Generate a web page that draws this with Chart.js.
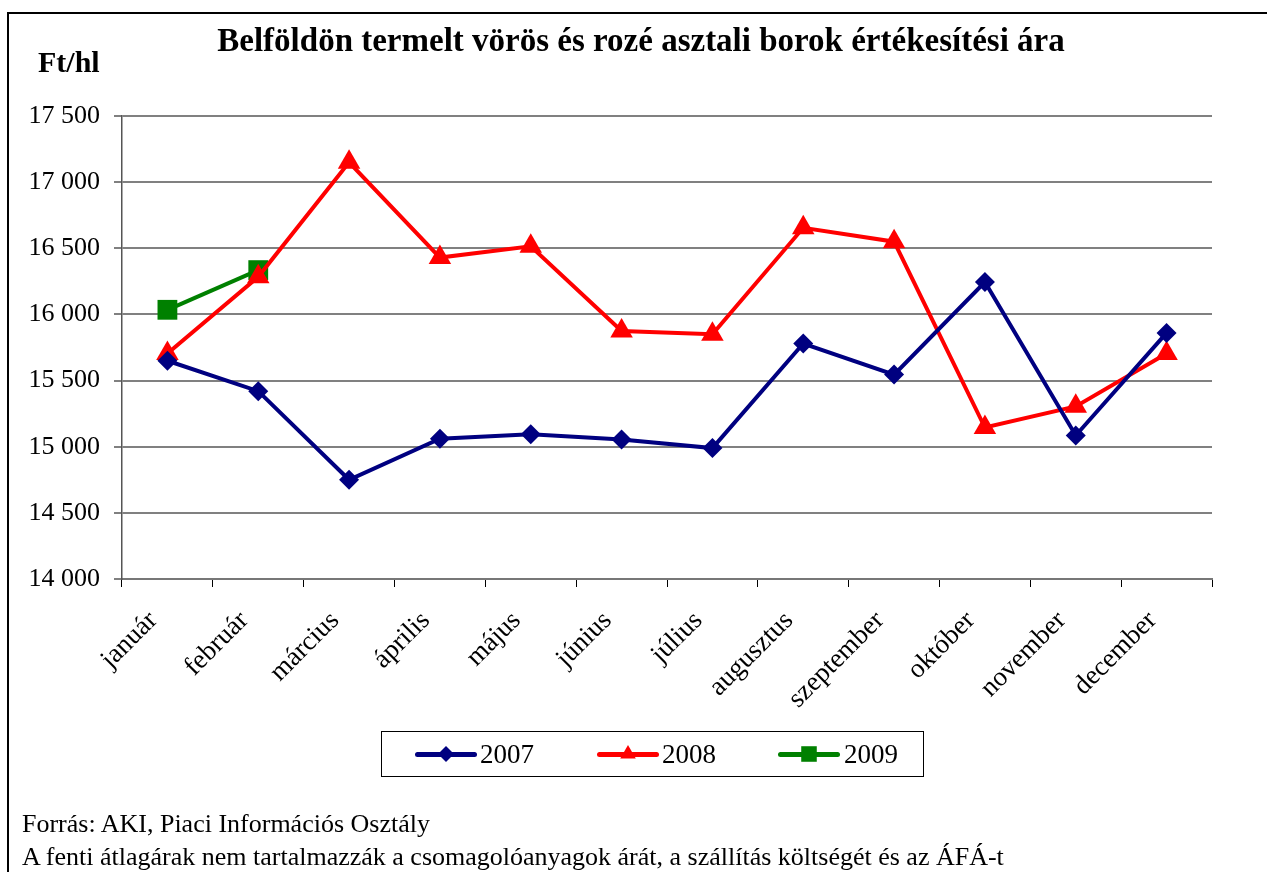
<!DOCTYPE html>
<html>
<head>
<meta charset="utf-8">
<script src="https://cdn.jsdelivr.net/npm/chart.js@4.4.1/dist/chart.umd.min.js"></script>
<style>
  html, body { margin: 0; padding: 0; background: #fff; }
  body { width: 1267px; height: 872px; position: relative; overflow: hidden;
         font-family: 'Liberation Serif', 'Times New Roman', serif; color: #000; }
  #frame { position: absolute; left: 7px; top: 12px; width: 1280px; height: 880px;
           border-left: 2px solid #000; border-top: 2px solid #000; box-sizing: border-box; }
  #wrap { position: absolute; left: 0; top: 0; width: 1267px; height: 872px; }
  #title { position: absolute; left: 0; width: 1282px; top: 22px; text-align: center;
           font-weight: bold; font-size: 33px; }
  #unit { position: absolute; left: 38px; top: 45px; font-weight: bold; font-size: 30px; }
  #legend { position: absolute; left: 381px; top: 731px; width: 543px; height: 46px;
            border: 1px solid #000; box-sizing: border-box; }
  .item { position: absolute; top: 0; height: 44px; }
  .item .line { position: absolute; top: 20px; height: 5px; border-radius: 3px; }
  .item .lbl { position: absolute; top: 7px; font-size: 27px; }
  .item canvas { position: absolute; }
  #foot { position: absolute; left: 22px; top: 807px; font-size: 26px; line-height: 33px; }
</style>
</head>
<body>
<div id="frame"></div>
<div id="wrap"><canvas id="chart" width="1267" height="872"></canvas></div>
<div id="title">Belföldön termelt vörös és rozé asztali borok értékesítési ára</div>
<div id="unit">Ft/hl</div>
<div id="legend"></div>
<div id="foot">Forrás: AKI, Piaci Információs Osztály<br>A fenti átlagárak nem tartalmazzák a csomagolóanyagok árát, a szállítás költségét és az ÁFÁ-t</div>
<script>
const months = ['január', 'február', 'március', 'április', 'május', 'június',
  'július', 'augusztus', 'szeptember', 'október', 'november', 'december'];
const y2007 = [15650, 15420, 14750, 15060, 15095, 15055, 14990, 15780, 15545, 16245, 15085, 15860];
const y2008 = [15705, 16285, 17150, 16430, 16515, 15875, 15850, 16655, 16550, 15145, 15305, 15705];
const y2009 = [16035, 16335, null, null, null, null, null, null, null, null, null, null];
const yTicks = [14000, 14500, 15000, 15500, 16000, 16500, 17000, 17500];

const font = "'Liberation Serif', 'Times New Roman', serif";

function fmt(v) {
  return String(v).replace(/\B(?=(\d{3})+(?!\d))/g, ' ');
}

const series = [
  { label: '2007', data: y2007, color: '#000080', style: 'rectRot', r: 10, lr: 8 },
  { label: '2008', data: y2008, color: '#ff0000', style: 'triangle', r: 13, lr: 9 },
  { label: '2009', data: y2009, color: '#008000', style: 'rect', r: 14, lr: 11 }
];

const ctx = document.getElementById('chart').getContext('2d');
const chart = new Chart(ctx, {
  type: 'line',
  data: {
    labels: months,
    datasets: series.map(s => ({
      label: s.label,
      data: s.data,
      borderColor: s.color,
      backgroundColor: s.color,
      borderWidth: 4,
      pointStyle: s.style,
      pointRadius: s.r,
      pointHoverRadius: s.r,
      pointBorderWidth: 0,
      tension: 0,
      spanGaps: false
    }))
  },
  options: {
    responsive: false,
    animation: false,
    events: [],
    layout: { padding: { left: 0, top: 116, right: 55, bottom: 143 } },
    plugins: { legend: { display: false }, title: { display: false }, tooltip: { enabled: false } },
    scales: {
      x: {
        offset: true,
        grid: { offset: true, drawOnChartArea: false, drawTicks: true, tickLength: 8, color: '#000', lineWidth: 1 },
        border: { color: '#777', width: 2 },
        ticks: { color: '#000', font: { family: font, size: 27 }, minRotation: 45, maxRotation: 45,
                 padding: 18, labelOffset: -14, autoSkip: false },
        afterFit: sc => { sc.height = 150; }
      },
      y: {
        min: 14000, max: 17500,
        afterBuildTicks: sc => { sc.ticks = yTicks.map(v => ({ value: v })); },
        grid: { color: '#808080', lineWidth: 2, tickLength: 8 },
        border: { color: '#555', width: 1.5 },
        ticks: { color: '#000', font: { family: font, size: 26 }, padding: 14, callback: v => fmt(v) },
        afterFit: sc => { sc.width = 122; }
      }
    }
  }
});

// legend built from the datasets
const legend = document.getElementById('legend');
const pos = [{ line: 33, text: 98 }, { line: 215, text: 280 }, { line: 396, text: 462 }];
series.forEach((s, i) => {
  const it = document.createElement('div');
  it.className = 'item';
  it.style.left = '0px';
  const ln = document.createElement('div');
  ln.className = 'line';
  ln.style.left = pos[i].line + 'px';
  ln.style.width = '62px';
  ln.style.background = s.color;
  it.appendChild(ln);
  const c = document.createElement('canvas');
  c.width = 30; c.height = 30;
  c.style.left = (pos[i].line + 31 - 15) + 'px';
  c.style.top = (22 - 15) + 'px';
  const g = c.getContext('2d');
  g.fillStyle = s.color;
  Chart.helpers.drawPoint(g, { pointStyle: s.style, radius: s.lr, borderWidth: 0 }, 15, 15);
  it.appendChild(c);
  const t = document.createElement('div');
  t.className = 'lbl';
  t.style.left = pos[i].text + 'px';
  t.textContent = s.label;
  it.appendChild(t);
  legend.appendChild(it);
});
</script>
</body>
</html>
